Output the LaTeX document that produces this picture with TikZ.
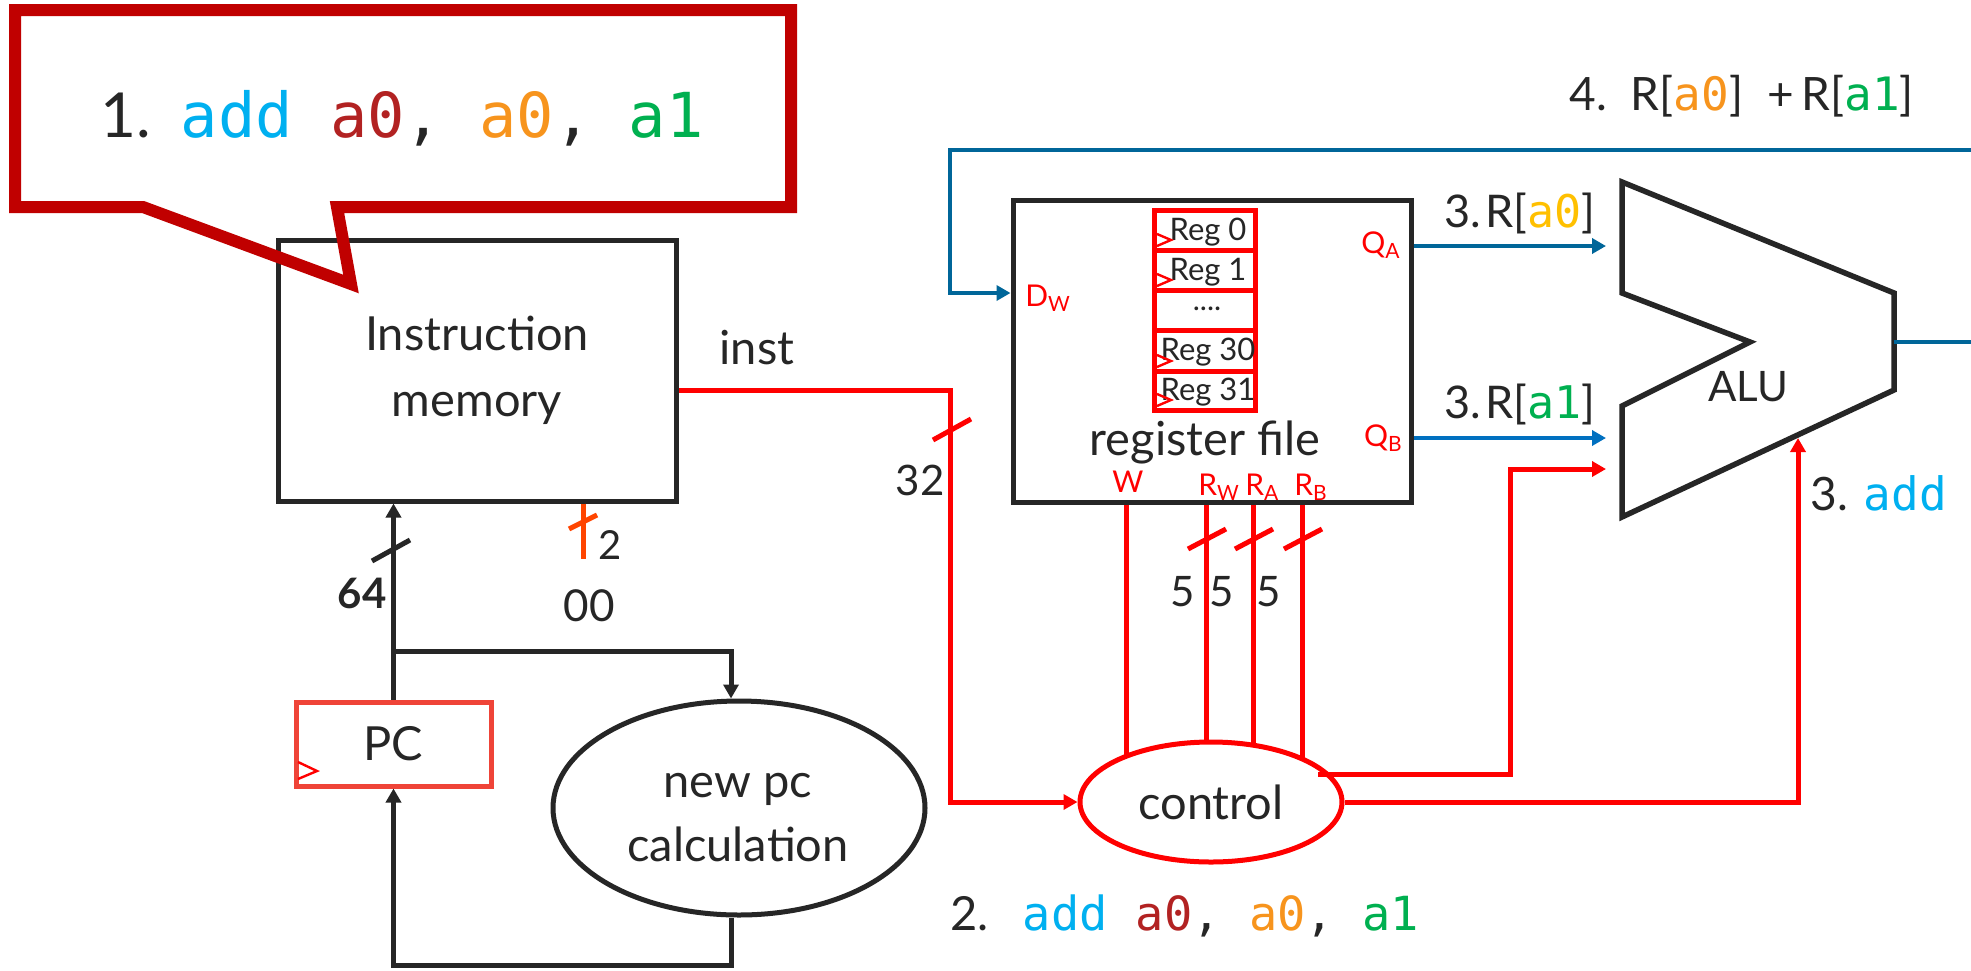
\documentclass[tikz,border=0pt]{standalone}
\usepackage{fontspec}
\setmainfont{Lato}
\newfontfamily\codefont{DejaVu Sans Mono}
\usetikzlibrary{arrows.meta,shapes.geometric,positioning}

\definecolor{texte}{RGB}{38,38,38}
\definecolor{rouge}{RGB}{255,0,0}
\definecolor{rougebulle}{RGB}{192,0,0}
\definecolor{rougepc}{RGB}{239,68,56}
\definecolor{orangefil}{RGB}{255,69,0}
\definecolor{bleufil}{RGB}{0,102,153}
\definecolor{bleuclair}{RGB}{0,112,192}
\definecolor{cadd}{RGB}{0,176,240}
\definecolor{cdest}{RGB}{178,34,34}
\definecolor{csrc}{RGB}{247,148,29}
\definecolor{csrcb}{RGB}{0,176,80}
\definecolor{cjaune}{RGB}{255,192,0}

\newcommand{\taille}[2]{\fontsize{#1}{#2}\selectfont}
\newcommand{\code}[2]{{\codefont\textcolor{#1}{#2}}}
\newcommand{\port}[2]{#1\raisebox{-0.35ex}{\taille{10.5}{10.5}#2}}

\begin{document}
\begin{tikzpicture}[x=0.5pt,y=-0.5pt,
    every node/.style={text=texte,font=\taille{23.5}{33},inner sep=0pt},
    bloc/.style={draw=texte,line width=2.5pt},
    port/.style={text=rouge,font=\taille{15}{15}},
    chiffre/.style={font=\taille{21}{21}},
    filnoir/.style={draw=texte,line width=2.5pt},
    filrouge/.style={draw=rouge,line width=2.5pt},
    filbleu/.style={draw=bleufil,line width=2.25pt},
    filorange/.style={draw=orangefil,line width=2.5pt},
    fleche/.style={-{Triangle[length=7pt,width=7.5pt]}},
    regcase/.style={draw=rouge,line width=2.5pt},
    horloge/.style={draw=rouge,line width=1.2pt},
    bulle/.style={draw=rougebulle,line width=6pt,line join=miter,miter limit=10}]
    % Cadre de l'image
    \fill[white] (0,0) rectangle (1971,970);
    \useasboundingbox (0,0) rectangle (1971,970);

    % Blocs principaux
    \node[bloc,minimum width=199pt,minimum height=130.5pt,align=center] (imem) at (477,370.5) {Instruction\\memory};
    \node[bloc,minimum width=199pt,minimum height=151pt] (regfile) at (1212,351) {};
    \node (rflabel) at (1205,442) {register file};
    \node[draw=rougepc,line width=2.5pt,minimum width=97.5pt,minimum height=42pt] (pc) at (393.5,744) {PC};
    \draw[horloge] (298,762) -- (317,771) -- (298,779);
    \node[ellipse,draw=texte,line width=2.5pt,minimum width=186pt,minimum height=107pt] (newpc) at (739,808) {};
    \node[align=center,font=\taille{23.5}{32}] (newpctxt) at (738,818) {new pc\\calculation};

    % Registres
    \foreach \haut/\bas/\nom [count=\i] in {210/250/Reg 0,250/290/Reg 1,330/371/Reg 30,371/410/Reg 31} {
        \draw[regcase] (1154,\haut) rectangle (1255,\bas);
        \node[font=\taille{15.5}{15.5}] (reg\i) at (1208,{(\haut+\bas)/2+2}) {\nom};
        \draw[horloge] (1157,{\bas-16}) -- (1171,{\bas-10}) -- (1157,{\bas-4});
    }
    \draw[regcase] (1154,290) rectangle (1255,330);
    \node[font=\taille{15}{15}] (regdots) at (1207,309) {....};

    % Ports du banc de registres
    \node[port,anchor=west] (dw) at (1025,298) {\port{D}{W}};
    \node[port,anchor=east] (qa) at (1400,245) {\port{Q}{A}};
    \node[port,anchor=east] (qb) at (1402,438) {\port{Q}{B}};
    \node[port] (pw) at (1128,482) {W};
    \node[port,anchor=west] (prw) at (1198,487) {\port{R}{W}};
    \node[port,anchor=west] (pra) at (1245,487) {\port{R}{A}};
    \node[port,anchor=west] (prb) at (1294,487) {\port{R}{B}};

    % Fils vers le controle
    \foreach \xp [count=\j] in {1126,1206,1253,1302} {
        \coordinate (bus\j) at (\xp,802);
        \draw[filrouge] (regfile.south -| bus\j) -- (bus\j);
    }
    \foreach \xp in {1206,1253,1302}
        \draw[filrouge] ({\xp-18},549) -- ({\xp+20},529);
    \node[chiffre] (cinq1) at (1183,592) {5};
    \node[chiffre] (cinq2) at (1222,592) {5};
    \node[chiffre] (cinq3) at (1269,592) {5};
    \node[ellipse,draw=rouge,fill=white,line width=2.5pt,minimum width=131pt,minimum height=60pt] (control) at (1211,802) {control};

    % ALU
    \draw[draw=texte,line width=2.75pt,line join=miter] (1622,182) -- (1894,293) -- (1894,390) -- (1622,517)
        -- (1622,406) -- (1750,342) -- (1622,293) -- cycle;
    \coordinate (alusortie) at (1894,342);
    \node[font=\taille{21}{21}] (alulabel) at (1748,387) {ALU};

    % Fils bleus
    \coordinate (bordhaut) at (1971,150);
    \coordinate (coude) at (950,293);
    \coordinate (bordalu) at (1971,342);
    \coordinate (entreeA) at (1606,246);
    \coordinate (entreeB) at (1606,438);
    \draw[filbleu,fleche] (bordhaut) -| (coude) -- (regfile.west |- coude);
    \draw[filbleu] (alusortie) -- (bordalu);
    \draw[filbleu,fleche] (regfile.east |- entreeA) -- (entreeA);
    \draw[filbleu,draw=bleuclair,fleche] (regfile.east |- entreeB) -- (entreeB);

    % Fils rouges
    \coordinate (coudeinst) at (950,390);
    \draw[filrouge,fleche] (imem.east |- coudeinst) -- (coudeinst) |- (control.west);
    \draw[filrouge] (933,440) -- (971,419);
    \node[chiffre] (trentedeux) at (920,480) {32};
    \node (inst) at (757,348) {inst};
    \coordinate (ctlA) at (1318,774);
    \coordinate (coudeop) at (1510,774);
    \coordinate (entreeop) at (1606,469);
    \coordinate (entreeadd) at (1798,438);
    \draw[filrouge,fleche] (ctlA) -- (coudeop) |- (entreeop);
    \draw[filrouge,fleche] (control.east) -| (entreeadd);

    % Chemin du PC
    \coordinate (branche) at (393.5,651);
    \coordinate (boucle) at (393.5,965);
    \draw[filnoir,fleche] (pc.north) -- (imem.south -| pc.north);
    \draw[filnoir] (372,561) -- (410,540);
    \node[font=\bfseries\taille{21}{21}] (soixantequatre) at (362,593) {64};
    \draw[filnoir,fleche] (branche) -| ([xshift=-4pt]newpc.north);
    \draw[filnoir,fleche] ([xshift=-4pt]newpc.south) |- (boucle) -- (pc.south);
    \coordinate (deuxbas) at (583,559);
    \draw[filorange] (imem.south -| deuxbas) -- (deuxbas);
    \draw[filorange] (569,529) -- (597,515);
    \node[font=\taille{20}{20}] (deux) at (610,545) {2};
    \node[font=\taille{22}{22}] (zerozero) at (589,606) {00};

    % Etiquettes des etapes
    \node[anchor=base west,font=\taille{22.5}{22.5}] (etapeA) at (1444,227) {3.\hspace{2pt}R[\code{cjaune}{a0}]};
    \node[anchor=base west,font=\taille{22.5}{22.5}] (etapeB) at (1444,418) {3.\hspace{2pt}R[\code{csrcb}{a1}]};
    \node[anchor=base west,font=\taille{23}{23}] (etapeop) at (1810,510) {3. \code{cadd}{add}};
    \node[anchor=base west,font=\taille{23}{23}] (etapesomme) at (1569,110)
        {4.\hspace{12pt}R[\code{csrc}{a0}]\hspace{12pt}+\,R[\code{csrcb}{a1}]};
    \node[anchor=base west] (etapedecode) at (950,930)
        {2.\hspace{17pt}{\codefont\textcolor{cadd}{add} \textcolor{cdest}{a0}, \textcolor{csrc}{a0}, \textcolor{csrcb}{a1}}};

    % Bulle de l'instruction
    \draw[bulle] (15,10) -- (791,10) -- (791,207) -- (337,207) -- (351,284) -- (143,207) -- (15,207) -- cycle;
    \node[anchor=base west,font=\taille{31}{31}] (instr) at (100,137)
        {1.\hspace{15pt}{\codefont\textcolor{cadd}{add} \textcolor{cdest}{a0}, \textcolor{csrc}{a0}, \textcolor{csrcb}{a1}}};
\end{tikzpicture}
\end{document}
